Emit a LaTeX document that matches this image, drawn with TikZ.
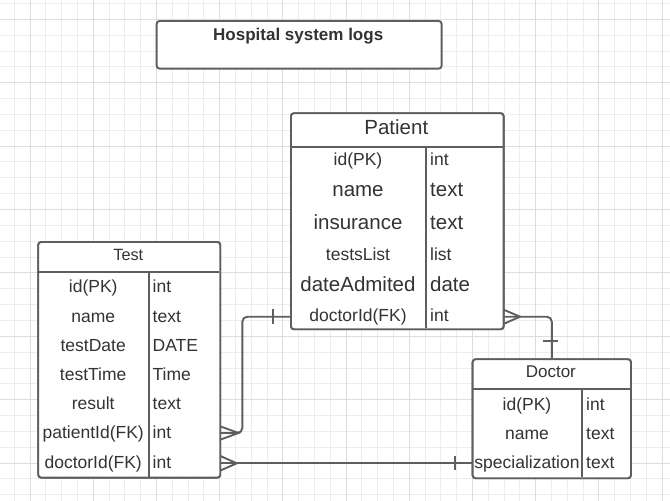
\documentclass[tikz,border=0pt]{standalone}
\usepackage{tikz}
\usepackage{fontspec}
\setmainfont{Liberation Sans}
\definecolor{lc}{HTML}{5E5E5E}
\definecolor{tc}{HTML}{333333}
\definecolor{gmin}{HTML}{EDEDED}
\definecolor{gmaj}{HTML}{DDDDDD}
\begin{document}
\begin{tikzpicture}[x=1pt,y=-1pt,
  line/.style={draw=lc, line width=1.9pt},
  box/.style={draw=lc, line width=1.9pt, fill=white, rounded corners=3pt, inner sep=0pt, anchor=north west},
  big/.style={font=\fontsize{20.5}{24}\selectfont},
  sm/.style={font=\fontsize{17.5}{21}\selectfont},
  lab/.style={inner sep=0pt, anchor=base, text=tc},
  typ/.style={inner sep=0pt, anchor=base west, text=tc},
]
\useasboundingbox (0,0) rectangle (670,501);
\fill[white] (0,0) rectangle (670,501);
% grid
\foreach \i in {0,...,43} \draw[gmin, line width=1pt] ({-1.6+15.8*\i},0) -- ({-1.6+15.8*\i},501);
\foreach \i in {0,...,33} \draw[gmin, line width=1pt] (0,{-12.4+15.85*\i}) -- (670,{-12.4+15.85*\i});
\foreach \i in {0,...,10} \draw[gmaj, line width=1pt] ({30+63.2*\i},0) -- ({30+63.2*\i},501);
\foreach \i in {0,...,8} \draw[gmaj, line width=1pt] (0,{19.3+63.4*\i}) -- (670,{19.3+63.4*\i});

% boxes
\node[box, minimum width=285pt, minimum height=47.7pt] (title) at (155.7,20) {};
\node[box, minimum width=212.7pt, minimum height=216pt] (patient) at (290,112.3) {};
\node[box, minimum width=182pt, minimum height=235.7pt] (test) at (37.3,241) {};
\node[box, minimum width=158.3pt, minimum height=119pt] (doctor) at (471.7,358.3) {};

% connectors
\draw[line, rounded corners=5pt] (test.east |- 0,433) -- (242.3,433) -- (242.3,316.7) -- (patient.west |- 0,316.7);
\draw[line] (219.3,426) -- (238.5,433) -- (219.3,440);
\draw[line] (273.3,309) -- (273.3,324);

\draw[line, rounded corners=5pt] (patient.east |- 0,316.7) -- (doctor.north |- 0,316.7) -- (doctor.north);
\draw[line] (502.7,309.3) -- (520,316.7) -- (502.7,324.3);
\draw[line] (543.3,341) -- (558.3,341);

\draw[line] (test.east |- 0,463.3) -- (doctor.west |- 0,463.3);
\draw[line] (219.3,455.5) -- (236.7,463.3) -- (219.3,471);
\draw[line] (455,455.7) -- (455,470);

% redraw boxes on top
\node[box, minimum width=212.7pt, minimum height=216pt] at (290,112.3) {};
\node[box, minimum width=182pt, minimum height=235.7pt] at (37.3,241) {};
\node[box, minimum width=158.3pt, minimum height=119pt] at (471.7,358.3) {};

% inner dividers
\draw[line] (290,146.7) -- (502.7,146.7);
\draw[line] (426,146.7) -- (426,328.3);
\draw[line] (37.3,272.3) -- (219.3,272.3);
\draw[line] (149,272.3) -- (149,476.7);
\draw[line] (471.7,389.3) -- (630,389.3);
\draw[line] (582.3,389.3) -- (582.3,477.3);

% title
\node[lab, font=\fontsize{17}{20}\selectfont\bfseries] (tt) at (298.2,40) {Hospital system logs};

% Patient
\node[lab, big] (ph) at (396.3,134.3) {Patient};
\node[lab, sm]  (p1) at (358,165.7) {id(PK)};
\node[typ, sm]  (p1t) at (430,165.7) {int};
\node[lab, big] (p2) at (358,196.7) {name};
\node[typ, big] (p2t) at (430,196.7) {text};
\node[lab, big] (p3) at (358,229) {insurance};
\node[typ, big] (p3t) at (430,229) {text};
\node[lab, sm]  (p4) at (358,260) {testsList};
\node[typ, sm]  (p4t) at (430,260) {list};
\node[lab, big] (p5) at (358,291) {dateAdmited};
\node[typ, big] (p5t) at (430,291) {date};
\node[lab, sm]  (p6) at (358,321.7) {doctorId(FK)};
\node[typ, sm]  (p6t) at (430,321.7) {int};

% Test
\node[lab, font=\fontsize{16.3}{20}\selectfont] (th) at (128.3,260) {Test};
\node[lab, sm] (t1) at (93.2,292.8) {id(PK)};
\node[typ, sm] (t1t) at (152.5,292.8) {int};
\node[lab, sm] (t2) at (93.2,322) {name};
\node[typ, sm] (t2t) at (152.5,322) {text};
\node[lab, sm] (t3) at (93.2,351.2) {testDate};
\node[typ, sm] (t3t) at (152.5,351.2) {DATE};
\node[lab, sm] (t4) at (93.2,380.4) {testTime};
\node[typ, sm] (t4t) at (152.5,380.4) {Time};
\node[lab, sm] (t5) at (93.2,409.6) {result};
\node[typ, sm] (t5t) at (152.5,409.6) {text};
\node[lab, sm] (t6) at (93.2,438.8) {patientId(FK)};
\node[typ, sm] (t6t) at (152.5,438.8) {int};
\node[lab, sm] (t7) at (93.2,468) {doctorId(FK)};
\node[typ, sm] (t7t) at (152.5,468) {int};

% Doctor
\node[lab, font=\fontsize{17}{20}\selectfont] (dh) at (550.85,377.3) {Doctor};
\node[lab, sm] (d1) at (527,410) {id(PK)};
\node[typ, sm] (d1t) at (586,410) {int};
\node[lab, sm] (d2) at (527,439.3) {name};
\node[typ, sm] (d2t) at (586,439.3) {text};
\node[lab, sm] (d3) at (527,468.6) {specialization};
\node[typ, sm] (d3t) at (586,468.6) {text};
\end{tikzpicture}
\end{document}
